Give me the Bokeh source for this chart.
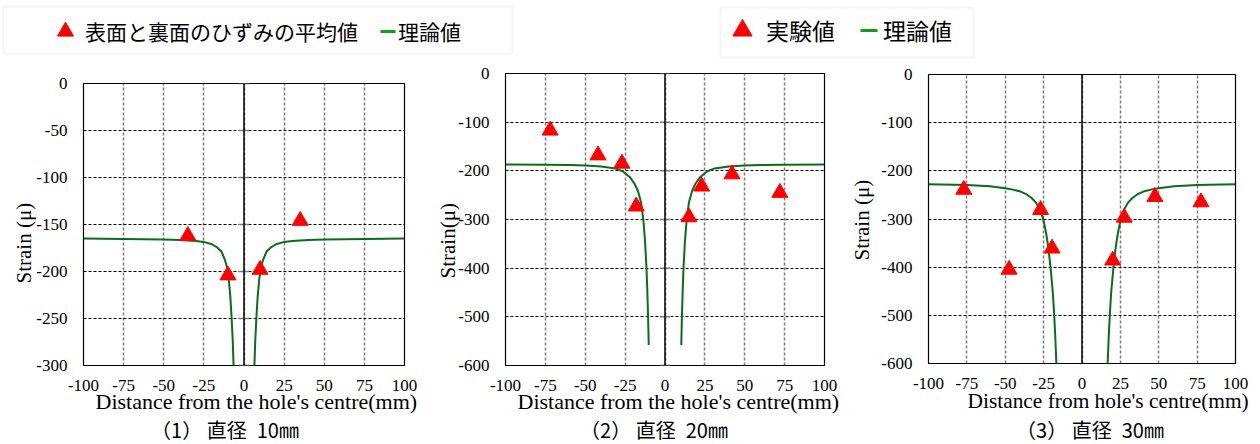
from bokeh.plotting import figure
from bokeh.models import (Range1d, FixedTicker, Legend, LegendItem, Label, Span, BoxAnnotation,
                          Title, LinearAxis, Grid)
from bokeh.layouts import column, row
from bokeh.embed import file_html
from bokeh.resources import INLINE

# ---------------- data ----------------
x_ticks = [-100, -75, -50, -25, 0, 25, 50, 75, 100]
x_tick_labels = ["-100", "-75", "-50", "-25", "0", "25", "50", "75", "100"]
p1_y_ticks = [0, -50, -100, -150, -200, -250, -300]
p1_y_tick_labels = ["0", "-50", "-100", "-150", "-200", "-250", "-300"]
p23_y_ticks = [0, -100, -200, -300, -400, -500, -600]
p23_y_tick_labels = ["0", "-100", "-200", "-300", "-400", "-500", "-600"]

# panel (1) diameter 10 mm
p1_exp_x = [-35, -10, 10, 35]
p1_exp_y = [-162, -204, -198, -146]
p1_th_dist = [6.2, 6.5, 7, 7.7, 8.5, 9.5, 10.5, 12, 14, 17, 20, 25, 30, 40, 50, 75, 100]
p1_th_strain = [-320, -300, -274, -250, -227, -208, -196, -187, -179, -174, -171, -168.5, -167.5, -166.5, -166, -165.5, -165]

# panel (2) diameter 20 mm
p2_exp_x = [-72, -42, -27, -18, 15, 23, 42, 72]
p2_exp_y = [-117, -168, -185, -273, -295, -232, -207, -245]
p2_th_dist = [10.2, 10.6, 11.1, 11.6, 12.5, 13.6, 15, 17, 19, 22, 26.5, 31, 40, 50, 60, 75, 100]
p2_th_strain = [-558, -500, -445, -400, -345, -300, -265, -241, -227, -213, -201, -195, -191, -189, -188, -187.5, -187]

# panel (3) diameter 30 mm
p3_exp_x = [-77, -47.5, -27, -19.5, 20, 27.5, 47.5, 77.5]
p3_exp_y = [-239, -405, -281, -361, -386, -297, -254, -265]
p3_th_dist = [16.5, 16.7, 17.4, 18.1, 19, 20.5, 22, 23.5, 25.3, 27.5, 30, 33, 36, 40, 45, 50, 60, 75, 100]
p3_th_strain = [-620, -600, -545, -500, -453, -400, -358, -327, -300, -280, -266, -256, -249, -243, -239, -236, -232, -229.5, -228]

legend1_labels = ["表面と裏面のひずみの平均値", "理論値"]
legend2_labels = ["実験値", "理論値"]
captions = ["（1） 直径\u200210㎜", "（2） 直径\u200220㎜", "（3） 直径\u200230㎜"]
x_titles = ["Distance from the hole's centre(mm)",
            "Distance from the hole's centre(mm)",
            "Distance from hole's centre(mm)"]
y_titles = ["Strain (μ)", "Strain(μ)", "Strain (μ)"]

# ---------------- styles ----------------
SERIF = "'Liberation Serif', serif"
CJK = "'Noto Sans CJK JP', sans-serif"
RED = "#ff0000"
CURVE = "#0d6b1d"
LEG_GREEN = "#12a012"
HEAD_H = 60
PANEL_H = 354
FOOT_H = 30


def make_panel(width, bl, br, bt, bb, ymin, yticks, ylabels, ex, ey, dist, strain,
               ytitle, ytitle_offset, ytitle_standoff,
               xtitle, xtitle_offset, xtitle_standoff, xtitle_size, center_ticks):
    p = figure(width=width, height=PANEL_H, x_range=Range1d(-100, 100), y_range=Range1d(ymin, 0),
               x_axis_type=None, y_axis_type=None,
               output_backend="svg", toolbar_location=None,
               min_border_left=bl, min_border_right=br, min_border_top=bt, min_border_bottom=bb,
               background_fill_color="white", border_fill_color="white")
    try:
        p.frame_align = False   # keep each panel's own frame position inside the row
    except Exception:
        pass
    p.outline_line_color = "black"
    p.outline_line_width = 1.2

    common = dict(major_tick_in=0, major_tick_out=0, minor_tick_line_color=None,
                  axis_line_color=None, major_label_text_font=SERIF,
                  major_label_text_font_size="17px", major_label_text_color="#000000")
    xt = FixedTicker(ticks=x_ticks)
    yt = FixedTicker(ticks=yticks)
    xa = LinearAxis(ticker=xt, major_label_overrides=dict(zip(x_ticks, x_tick_labels)),
                    major_label_standoff=14, **common)
    ya = LinearAxis(ticker=yt, major_label_overrides=dict(zip(yticks, ylabels)),
                    major_label_standoff=16, **common)
    p.add_layout(xa, "below")
    p.add_layout(ya, "left")
    p.add_layout(Grid(dimension=0, ticker=xt, grid_line_color="#7a7a7a",
                      grid_line_dash="3 2", grid_line_width=1.5))
    p.add_layout(Grid(dimension=1, ticker=yt, grid_line_color="#000000",
                      grid_line_dash="3 2", grid_line_width=1))

    p.add_layout(Span(location=0, dimension="height", line_color="black", line_width=1.5))
    if center_ticks:
        p.scatter(x=[0] * len(yticks), y=yticks, marker="dash", size=10,
                  line_color="#7a7a7a", line_width=1.5)

    p.line(x=[-d for d in dist], y=strain, line_color=CURVE, line_width=2)
    p.line(x=dist, y=strain, line_color=CURVE, line_width=2)
    p.scatter(x=ex, y=ey, marker="triangle", size=16, fill_color=RED, line_color=RED)

    p.add_layout(Title(text=ytitle, align="left", offset=ytitle_offset, standoff=ytitle_standoff,
                       vertical_align="middle", text_font=SERIF, text_font_size="21px",
                       text_font_style="normal", text_color="#000000"), "left")
    p.add_layout(Title(text=xtitle, align="left", offset=xtitle_offset, standoff=xtitle_standoff,
                       vertical_align="middle", text_font=SERIF, text_font_size=xtitle_size,
                       text_font_style="normal", text_color="#000000"), "below")
    return p


p1 = make_panel(430, 83, 26, 23, 49, -300, p1_y_ticks, p1_y_tick_labels, p1_exp_x, p1_exp_y,
                p1_th_dist, p1_th_strain, y_titles[0], 82, -7,
                x_titles[0], 12, -11, "22px", True)
p2 = make_panel(415, 75, 21, 13, 49, -600, p23_y_ticks, p23_y_tick_labels, p2_exp_x, p2_exp_y,
                p2_th_dist, p2_th_strain, y_titles[1], 87, -10,
                x_titles[1], 12, -11, "22px", True)
p3 = make_panel(415, 74, 25, 14, 51, -600, p23_y_ticks, p23_y_tick_labels, p3_exp_x, p3_exp_y,
                p3_th_dist, p3_th_strain, y_titles[2], 103, 7,
                x_titles[2], 39, -8, "21.4px", False)

# ---------------- header with the two legends ----------------
h = figure(width=1260, height=HEAD_H, x_range=Range1d(0, 1260), y_range=Range1d(HEAD_H, 0),
           output_backend="svg", toolbar_location=None, min_border=0,
           x_axis_type=None, y_axis_type=None,
           background_fill_color="white", border_fill_color="white")
h.outline_line_color = None

h.add_layout(BoxAnnotation(left=3, right=512, top=6, bottom=53, fill_alpha=0,
                           line_color="#d9d9d9", line_width=2))
h.add_layout(BoxAnnotation(left=720, right=973, top=7, bottom=57, fill_alpha=0,
                           line_color="#d9d9d9", line_width=2))

# legend renderers reuse panel data; that data lies outside the header's ranges (not visible)
t1 = h.scatter(x=p1_exp_x, y=p1_exp_y, marker="triangle", size=16, fill_color=RED, line_color=RED)
l1 = h.line(x=p1_th_dist, y=p1_th_strain, line_color=LEG_GREEN, line_width=3, line_dash="0 22 15 100")
t2 = h.scatter(x=p2_exp_x, y=p2_exp_y, marker="triangle", size=19, fill_color=RED, line_color=RED)
l2 = h.line(x=p2_th_dist, y=p2_th_strain, line_color=LEG_GREEN, line_width=3, line_dash="0 25 17 100")

leg1 = Legend(items=[LegendItem(label=legend1_labels[0], renderers=[t1]),
                     LegendItem(label=legend1_labels[1], renderers=[l1])],
              location=(45, 9), orientation="horizontal",
              glyph_width=40, glyph_height=40, label_standoff=0, spacing=0,
              padding=0, margin=0, border_line_alpha=0, background_fill_alpha=0,
              label_text_font=CJK, label_text_font_size="21px", label_text_color="#000000")
leg2 = Legend(items=[LegendItem(label=legend2_labels[0], renderers=[t2]),
                     LegendItem(label=legend2_labels[1], renderers=[l2])],
              location=(718, 6), orientation="horizontal",
              glyph_width=48, glyph_height=48, label_standoff=0, spacing=0,
              padding=0, margin=0, border_line_alpha=0, background_fill_alpha=0,
              label_text_font=CJK, label_text_font_size="23px", label_text_color="#000000")
h.add_layout(leg1)
h.add_layout(leg2)

# ---------------- footer with the panel captions ----------------
f = figure(width=1260, height=FOOT_H, x_range=Range1d(0, 1260), y_range=Range1d(FOOT_H, 0),
           output_backend="svg", toolbar_location=None, min_border=0,
           x_axis_type=None, y_axis_type=None,
           background_fill_color="white", border_fill_color="white")
f.outline_line_color = None
caption_pos = [(224.5, 14.5), (653.5, 14.5), (1089.5, 14.5)]
for txt, (x, y) in zip(captions, caption_pos):
    f.add_layout(Label(x=x, y=y, text=txt, text_align="center", text_baseline="middle",
                       text_font=CJK, text_font_size="20px", text_color="#000000"))

layout = column(h, row(p1, p2, p3, spacing=0), f, spacing=0)
open("out.html", "w").write(file_html(layout, INLINE))
